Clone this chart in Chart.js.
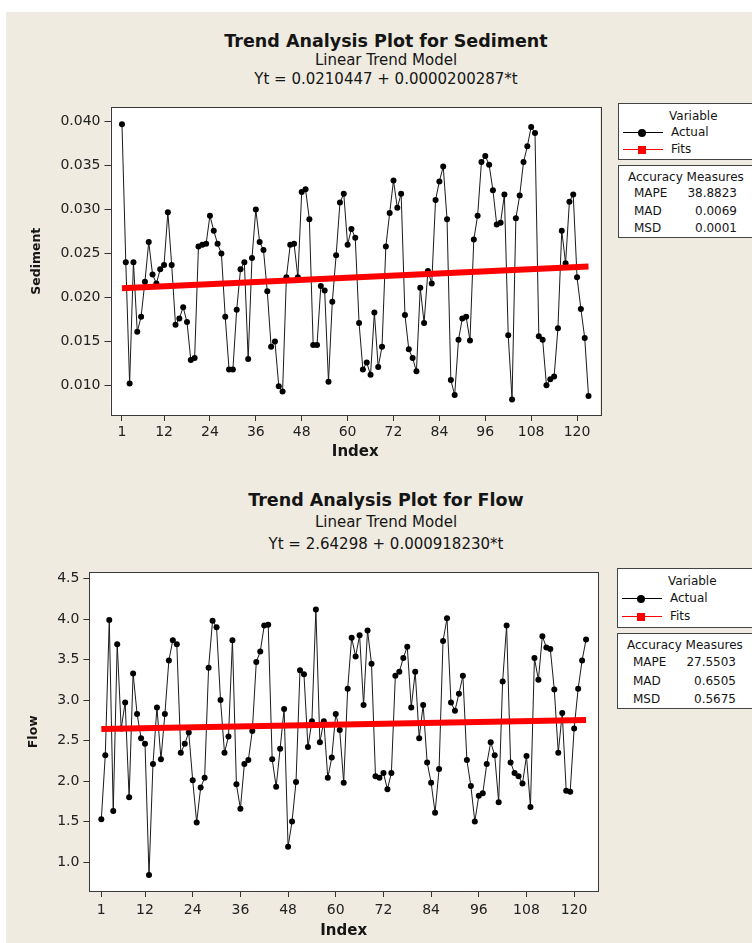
<!DOCTYPE html>
<html>
<head>
<meta charset="utf-8">
<script src="https://cdn.jsdelivr.net/npm/chart.js@4.4.1/dist/chart.umd.min.js"></script>
<style>
  html, body { margin: 0; padding: 0; background: #fff; }
  #page { position: relative; width: 752px; height: 943px; overflow: hidden; background: #fff; font-family: "DejaVu Sans", sans-serif; color: #151515; }
  #bg { position: absolute; left: 6px; top: 12px; right: 0; bottom: 0; background: #efebe0; }
  canvas { position: absolute; left: 0; }
  .t1, .t2 { position: absolute; left: 86px; width: 600px; text-align: center; line-height: 20px; white-space: nowrap; }
  .t1 { font-weight: bold; font-size: 17.5px; }
  .t2 { font-size: 15px; }
  .leg { position: absolute; width: 150px; height: 150px; font-size: 12px; }
  .leg div { position: absolute; line-height: 14px; white-space: nowrap; }
  .leg .box { border: 1px solid #444; background: #fff; box-sizing: border-box; left: 0; width: 150px; }
</style>
</head>
<body>
<div id="page">
  <div id="bg"></div>

  <div class="t1" style="top:31px">Trend Analysis Plot for Sediment</div>
  <div class="t2" style="top:50px">Linear Trend Model</div>
  <div class="t2" style="top:69px">Yt = 0.0210447 + 0.0000200287*t</div>
  <canvas id="chartSediment" width="605" height="370" style="top:95px"></canvas>

  <div class="t1" style="top:490px">Trend Analysis Plot for Flow</div>
  <div class="t2" style="top:512px">Linear Trend Model</div>
  <div class="t2" style="top:534px">Yt = 2.64298 + 0.000918230*t</div>
  <canvas id="chartFlow" width="603" height="383" style="top:560px"></canvas>
</div>

<script>
// tick labels
var indexTicks = [1, 12, 24, 36, 48, 60, 72, 84, 96, 108, 120];
var sedimentTicks = [0.010, 0.015, 0.020, 0.025, 0.030, 0.035, 0.040];
var flowTicks = [1.0, 1.5, 2.0, 2.5, 3.0, 3.5, 4.0, 4.5];

// actual values
var sediment = [
  0.0397, 0.0240, 0.0102, 0.0240, 0.0161, 0.0178, 0.0218, 0.0263, 0.0226, 0.0216,
  0.0232, 0.0237, 0.0297, 0.0237, 0.0169, 0.0176, 0.0189, 0.0172, 0.0129, 0.0131,
  0.0258, 0.0260, 0.0261, 0.0293, 0.0276, 0.0261, 0.0250, 0.0178, 0.0118, 0.0118,
  0.0186, 0.0232, 0.0240, 0.0130, 0.0245, 0.0300, 0.0263, 0.0254, 0.0207, 0.0144,
  0.0150, 0.0099, 0.0093, 0.0223, 0.0260, 0.0261, 0.0223, 0.0320, 0.0323, 0.0289,
  0.0146, 0.0146, 0.0213, 0.0208, 0.0104, 0.0195, 0.0248, 0.0308, 0.0318, 0.0260,
  0.0278, 0.0268, 0.0171, 0.0118, 0.0126, 0.0112, 0.0183, 0.0121, 0.0144, 0.0258,
  0.0296, 0.0333, 0.0302, 0.0318, 0.0180, 0.0141, 0.0131, 0.0116, 0.0211, 0.0171,
  0.0230, 0.0216, 0.0311, 0.0332, 0.0349, 0.0289, 0.0106, 0.0089, 0.0152, 0.0176,
  0.0178, 0.0151, 0.0266, 0.0293, 0.0354, 0.0361, 0.0351, 0.0322, 0.0283, 0.0285,
  0.0317, 0.0157, 0.0084, 0.0290, 0.0316, 0.0354, 0.0372, 0.0394, 0.0387, 0.0156,
  0.0152, 0.0100, 0.0107, 0.0110, 0.0165, 0.0276, 0.0239, 0.0309, 0.0317, 0.0223,
  0.0187, 0.0154, 0.0088
];

var flow = [
  1.53, 2.32, 3.99, 1.63, 3.69, 2.65, 2.97, 1.80, 3.33, 2.83,
  2.53, 2.46, 0.84, 2.21, 2.91, 2.27, 2.83, 3.49, 3.74, 3.69,
  2.35, 2.46, 2.60, 2.01, 1.49, 1.92, 2.04, 3.40, 3.98, 3.90,
  3.00, 2.35, 2.55, 3.74, 1.96, 1.66, 2.21, 2.26, 2.62, 3.47,
  3.60, 3.92, 3.93, 2.27, 1.93, 2.40, 2.89, 1.19, 1.50, 1.99,
  3.37, 3.32, 2.42, 2.74, 4.12, 2.48, 2.74, 2.04, 2.29, 2.83,
  2.63, 1.98, 3.14, 3.77, 3.54, 3.80, 2.94, 3.86, 3.45, 2.06,
  2.04, 2.10, 1.90, 2.10, 3.30, 3.35, 3.52, 3.66, 2.91, 3.35,
  2.53, 2.94, 2.23, 1.98, 1.61, 2.15, 3.73, 4.01, 2.97, 2.87,
  3.08, 3.30, 2.26, 1.94, 1.50, 1.82, 1.85, 2.21, 2.48, 2.32,
  1.74, 3.23, 3.92, 2.23, 2.10, 2.06, 1.97, 2.31, 1.68, 3.52,
  3.25, 3.79, 3.65, 3.63, 3.13, 2.35, 2.84, 1.88, 1.87, 2.65,
  3.14, 3.49, 3.75
];

// fitted trend line, end points
var fitIndex = [1, 123];
var sedimentFit = [0.02106, 0.02351];
var flowFit = [2.6439, 2.7559];

// accuracy measures
var measureNames = ["MAPE", "MAD", "MSD"];
var sedimentMeasures = ["38.8823", "0.0069", "0.0001"];
var flowMeasures = ["27.5503", "0.6505", "0.5675"];

// white plot area + dark frame, like minitab
var framePlugin = {
  id: "frame",
  beforeDraw: function (chart) {
    var a = chart.chartArea;
    chart.ctx.save();
    chart.ctx.fillStyle = "#fff";
    chart.ctx.fillRect(a.left, a.top, a.right - a.left, a.bottom - a.top);
    chart.ctx.restore();
  },
  afterDraw: function (chart) {
    var a = chart.chartArea, c = chart.ctx;
    c.save();
    c.strokeStyle = "#383838";
    c.lineWidth = 1;
    c.strokeRect(Math.round(a.left) + 0.5, Math.round(a.top) + 0.5, Math.round(a.right - a.left), Math.round(a.bottom - a.top));
    c.restore();
  },
};

function makeChart(id, o) {
  var fitData = fitIndex.map(function (t, i) { return { x: t, y: o.fit[i] }; });
  var actualData = o.values.map(function (v, i) { return { x: i + 1, y: v }; });

  return new Chart(document.getElementById(id), {
    type: "line",
    data: {
      datasets: [
        {
          label: "Fits",
          data: fitData,
          borderColor: "#ff0000",
          borderWidth: 6,
          pointRadius: 0,
          tension: 0,
          fill: false,
        },
        {
          label: "Actual",
          data: actualData,
          borderColor: "#1a1a1a",
          borderWidth: 1,
          pointRadius: 3,
          pointBorderWidth: 0,
          pointBackgroundColor: "#000",
          tension: 0,
          fill: false,
        },
      ],
    },
    options: {
      responsive: false,
      animation: false,
      layout: { padding: { top: 8, right: 5, left: 0, bottom: 0 } },
      plugins: {
        legend: { display: false },
        tooltip: { enabled: false },
      },
      scales: {
        x: {
          type: "linear",
          min: -2,
          max: 126,
          afterBuildTicks: function (s) {
            s.ticks = indexTicks.map(function (v) { return { value: v }; });
          },
          afterFit: function (s) { s.height = o.xHeight; },
          border: { display: false },
          grid: {
            display: true,
            drawOnChartArea: false,
            drawTicks: true,
            tickLength: 6,
            tickColor: "#333",
          },
          ticks: {
            color: "#222",
            padding: o.xPad,
            maxRotation: 0,
            autoSkip: false,
            font: { family: "DejaVu Sans", size: 14 },
            callback: function (v) { return v; },
          },
          title: {
            display: true,
            text: "Index",
            color: "#151515",
            padding: { top: 0, bottom: o.indexPad },
            font: { family: "DejaVu Sans", size: 15, weight: "bold", lineHeight: 1 },
          },
        },
        y: {
          min: o.yMin,
          max: o.yMax,
          afterBuildTicks: function (s) {
            s.ticks = o.yTicks.map(function (v) { return { value: v }; });
          },
          afterFit: function (s) { s.width = o.yWidth; },
          border: { display: false },
          grid: {
            display: true,
            drawOnChartArea: false,
            drawTicks: true,
            tickLength: 6,
            tickColor: "#333",
          },
          ticks: {
            color: "#222",
            padding: 4,
            autoSkip: false,
            font: { family: "DejaVu Sans", size: 14 },
            callback: function (v) { return v.toFixed(o.digits); },
          },
          title: {
            display: true,
            text: o.yLabel,
            color: "#151515",
            padding: { top: o.yTitlePad, bottom: 0 },
            font: { family: "DejaVu Sans", size: 12.5, weight: "bold", lineHeight: 1 },
          },
        },
      },
    },
    plugins: [framePlugin],
  });
}

makeChart("chartSediment", {
  values: sediment,
  fit: sedimentFit,
  yTicks: sedimentTicks,
  yMin: 0.00663,
  yMax: 0.04162,
  digits: 3,
  yLabel: "Sediment",
  yWidth: 110.5,
  yTitlePad: 30,
  xHeight: 50,
  xPad: 3,
  indexPad: 5.5,
});

makeChart("chartFlow", {
  values: flow,
  fit: flowFit,
  yTicks: flowTicks,
  yMin: 0.643,
  yMax: 4.577,
  digits: 1,
  yLabel: "Flow",
  yWidth: 89.4,
  yTitlePad: 27,
  xHeight: 52,
  xPad: 5,
  indexPad: 4.5,
});

// legend + accuracy boxes; k stretches the row spacing
function addLegend(left, top, k, measures) {
  var page = document.getElementById("page");
  var leg = document.createElement("div");
  leg.className = "leg";
  leg.style.left = left + "px";
  leg.style.top = top + "px";

  function row(cy) { return (cy * k - 7).toFixed(1); }

  var html = "";
  html += '<div class="box" style="top:0;height:' + (57 * k).toFixed(1) + 'px"></div>';
  html += '<div class="box" style="top:' + (62 * k).toFixed(1) + 'px;height:' + (73 * k).toFixed(1) + 'px"></div>';
  html += '<div style="left:51px;top:' + row(12.7) + 'px">Variable</div>';
  html += '<div style="left:5px;top:' + (29 * k).toFixed(1) + 'px;width:40px;height:1px;background:#000"></div>';
  html += '<div style="left:20px;top:' + (29 * k - 3.5).toFixed(1) + 'px;width:8px;height:8px;border-radius:50%;background:#000"></div>';
  html += '<div style="left:53px;top:' + row(29) + 'px">Actual</div>';
  html += '<div style="left:5px;top:' + (46 * k).toFixed(1) + 'px;width:40px;height:1px;background:#f00"></div>';
  html += '<div style="left:20px;top:' + (46 * k - 3.5).toFixed(1) + 'px;width:8px;height:8px;background:#f00"></div>';
  html += '<div style="left:53px;top:' + row(46) + 'px">Fits</div>';
  html += '<div style="left:10px;top:' + row(73.7) + 'px">Accuracy Measures</div>';
  for (var i = 0; i < measureNames.length; i++) {
    var y = row(90.3 + i * 17.5);
    html += '<div style="left:16px;top:' + y + 'px">' + measureNames[i] + "</div>";
    html += '<div style="left:60px;width:59px;text-align:right;top:' + y + 'px">' + measures[i] + "</div>";
  }
  leg.innerHTML = html;
  page.appendChild(leg);
}

addLegend(618, 103, 1, sedimentMeasures);
addLegend(617, 568, 1.045, flowMeasures);
</script>
</body>
</html>
